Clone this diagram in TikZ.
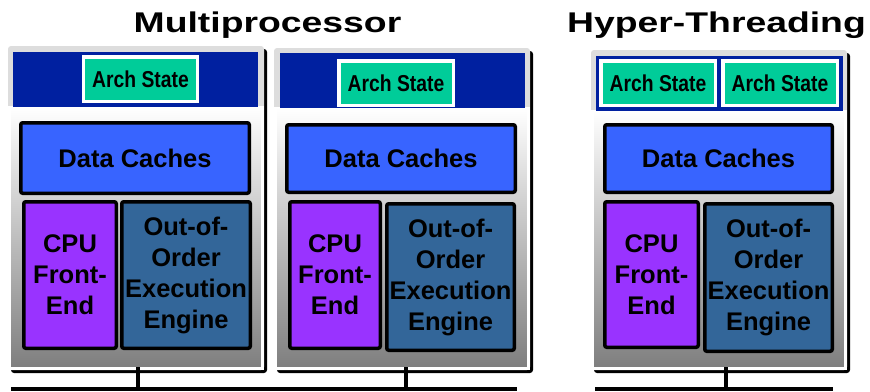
\documentclass[tikz,border=0pt]{standalone}
\usepackage{fontspec}
\setmainfont{Liberation Sans}
\newfontfamily\titlefont[FakeStretch=1.31]{Liberation Sans}
\newfontfamily\narrowfont[FakeStretch=0.84]{Liberation Sans}

\definecolor{framegray}{RGB}{221,221,221}
\definecolor{panelgray}{RGB}{126,126,126}
\definecolor{bandnavy}{RGB}{0,32,160}
\definecolor{archgreen}{RGB}{0,204,153}
\definecolor{cacheblue}{RGB}{56,100,255}
\definecolor{fepurple}{RGB}{153,51,255}
\definecolor{ooblue}{RGB}{51,102,153}

\tikzset{
  band/.style={fill=bandnavy},
  archbox/.style={draw=white, line width=3.5pt, fill=archgreen, inner sep=0pt,
    font=\narrowfont\bfseries\fontsize{23}{25}\selectfont},
  unitbox/.style={draw=black, line width=3.5pt, rounded corners=2pt, inner sep=0pt,
    align=center, font=\bfseries\fontsize{25.5}{31}\selectfont},
  cachebox/.style={unitbox, fill=cacheblue},
  febox/.style={unitbox, fill=fepurple},
  oobox/.style={unitbox, fill=ooblue},
  titletext/.style={font=\titlefont\bfseries\fontsize{28.5}{30}\selectfont,
    anchor=base, inner sep=0pt},
  busline/.style={line width=4pt},
  tapline/.style={line width=4pt},
}

\begin{document}
\begin{tikzpicture}[x=1pt, y=-1pt]
\useasboundingbox (0,0) rectangle (870,391);

% titles
\node[titletext] (mptitle) at (267.5,32) {Multiprocessor};
\node[titletext] (httitle) at (716.5,32) {Hyper-Threading};

% processor frames: left/top/right/bottom of frame, band left/top/right/bottom
\foreach \xa/\ya/\xb/\yb/\ba/\bb/\bc/\bd in
  {8/46/264/370/13/52/258/107,
   274/48/530/370/280/53/525/108,
   591/50/847/370/596/56/843/111}{
  \fill[black, rounded corners=3pt] (\xa+3,\ya+3) rectangle (\xb+3,\yb+3);
  \fill[framegray, rounded corners=3pt] (\xa,\ya) rectangle (\xb,\yb);
  \shadedraw[top color=white, bottom color=panelgray, draw=white, line width=2.5pt]
    (\xa+1.5,\bd) rectangle (\xb-1.5,\yb-1.5);
  \fill[band] (\ba,\ba*0+\bb) rectangle (\bc,\bd);
}

% first processor
\node[archbox, minimum width=114pt, minimum height=44.5pt] (as1) at (140.5,79) {Arch State};
\node[cachebox, minimum width=228.5pt, minimum height=70.5pt] (dc1) at (135,158) {Data Caches};
\node[febox, minimum width=92.5pt, minimum height=146.5pt] (fe1) at (70,275) {CPU\\Front-\\End};
\node[oobox, minimum width=128.5pt, minimum height=146.5pt] (oo1) at (186,275) {Out-of-\\Order\\Execution\\Engine};

% second processor
\node[archbox, minimum width=114.5pt, minimum height=44.5pt] (as2) at (396,83) {Arch State};
\node[cachebox, minimum width=228.5pt, minimum height=67.5pt] (dc2) at (401,158.5) {Data Caches};
\node[febox, minimum width=90.5pt, minimum height=146.5pt] (fe2) at (335,275) {CPU\\Front-\\End};
\node[oobox, minimum width=127.5pt, minimum height=146.5pt] (oo2) at (450.5,277) {Out-of-\\Order\\Execution\\Engine};

% hyper-threaded processor
\node[archbox, minimum width=114.5pt, minimum height=44.5pt] (as3a) at (658,83) {Arch State};
\node[archbox, minimum width=114.5pt, minimum height=44.5pt] (as3b) at (780,83) {Arch State};
\node[cachebox, minimum width=227.5pt, minimum height=67.5pt] (dc3) at (718.5,158.5) {Data Caches};
\node[febox, minimum width=93.5pt, minimum height=145.5pt] (fe3) at (651.5,274.5) {CPU\\Front-\\End};
\node[oobox, minimum width=127.5pt, minimum height=147.5pt] (oo3) at (768.5,277.5) {Out-of-\\Order\\Execution\\Engine};

% system buses
\coordinate (busA) at (11,389);
\coordinate (busB) at (517,389);
\coordinate (busC) at (595,389);
\coordinate (busD) at (833,389);
\draw[busline] (busA) -- (busB);
\draw[busline] (busC) -- (busD);

% bus taps
\coordinate (tap1) at (137.5,367);
\coordinate (tap2) at (406,367);
\coordinate (tap3) at (725.5,367);
\draw[tapline] (tap1) -- (tap1 |- busA);
\draw[tapline] (tap2) -- (tap2 |- busB);
\draw[tapline] (tap3) -- (tap3 |- busD);
\end{tikzpicture}
\end{document}
